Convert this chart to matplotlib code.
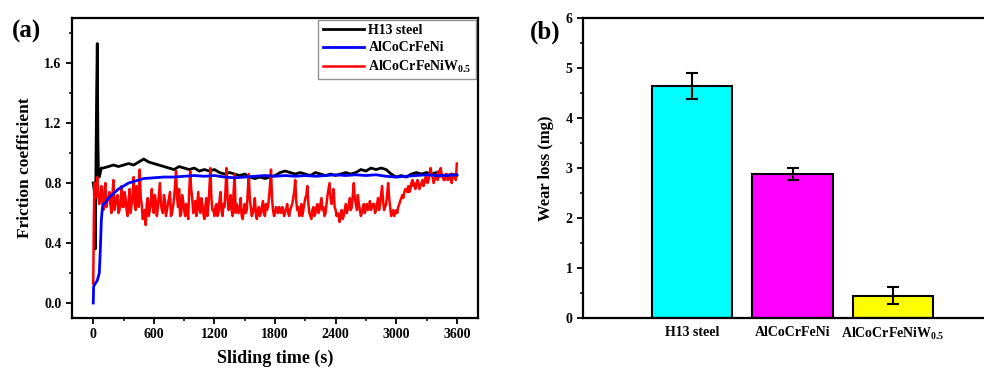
import numpy as np
import matplotlib
matplotlib.use("Agg")
import matplotlib.pyplot as plt
from matplotlib.ticker import MultipleLocator

plt.rcParams['font.family'] = ['Liberation Serif', 'DejaVu Serif']
plt.rcParams['font.weight'] = 'bold'
plt.rcParams['mathtext.fontset'] = 'custom'
plt.rcParams['mathtext.rm'] = 'Liberation Serif:bold'
plt.rcParams['mathtext.it'] = 'Liberation Serif:bold:italic'
plt.rcParams['mathtext.bf'] = 'Liberation Serif:bold'

# ---- (a) friction coefficient vs sliding time ----
h13_time = [0, 10, 20, 28, 34, 40, 46, 52, 60, 80] + list(range(100, 3601, 50))
h13_mu = [0.80, 0.75, 0.36, 1.00, 1.42, 1.73, 1.10, 0.85, 0.84, 0.90,
          0.90, 0.91, 0.92, 0.91, 0.92, 0.93, 0.92, 0.94, 0.96, 0.94,
          0.93, 0.92, 0.91, 0.90, 0.89, 0.91, 0.90, 0.89, 0.90, 0.88,
          0.89, 0.88, 0.89, 0.87, 0.86, 0.87, 0.86, 0.85, 0.86, 0.84,
          0.83, 0.84, 0.83, 0.84, 0.85, 0.87, 0.88, 0.87, 0.86, 0.87,
          0.86, 0.85, 0.87, 0.86, 0.85, 0.86, 0.85, 0.86, 0.87, 0.86,
          0.87, 0.89, 0.88, 0.90, 0.89, 0.90, 0.89, 0.86, 0.84, 0.85,
          0.84, 0.86, 0.87, 0.86, 0.87, 0.86, 0.87, 0.85, 0.84, 0.86,
          0.85]

hea_time = [0, 4, 20, 40, 60, 70, 80, 90, 100, 120, 150, 200, 250, 300, 350,
            400, 450, 500, 600, 700, 800, 900, 1000, 1100, 1200, 1300, 1400,
            1500, 1600, 1700, 1800, 1900, 2000, 2100, 2200, 2300, 2400, 2500,
            2600, 2700, 2800, 2900, 3000, 3100, 3200, 3300, 3400, 3500, 3600]
hea_mu = [0.0, 0.11, 0.13, 0.15, 0.20, 0.35, 0.55, 0.63, 0.66, 0.67, 0.70,
          0.73, 0.76, 0.78, 0.80, 0.81, 0.82, 0.83, 0.835, 0.84, 0.84, 0.845,
          0.85, 0.845, 0.85, 0.84, 0.835, 0.84, 0.845, 0.85, 0.845, 0.85,
          0.845, 0.85, 0.845, 0.85, 0.855, 0.85, 0.855, 0.85, 0.855, 0.845,
          0.84, 0.845, 0.85, 0.855, 0.85, 0.85, 0.855]

# W0.5 alloy: readings every 20 s (even) plus the in-between readings (odd 10 s)
w_time = [0, 6, 12] + list(range(20, 3601, 20))
w_mu = [0.13, 0.55, 0.80,
        0.70, 0.84, 0.66, 0.78, 0.62, 0.80, 0.68, 0.74, 0.60, 0.82,
        0.66, 0.72, 0.62, 0.78, 0.64, 0.70, 0.58, 0.76, 0.66, 0.84,
        0.62, 0.72, 0.89, 0.66, 0.58, 0.52, 0.70, 0.62, 0.76, 0.60,
        0.68, 0.64, 0.80, 0.62, 0.72, 0.58, 0.66, 0.74, 0.60, 0.70,
        0.88, 0.64, 0.58, 0.72, 0.62, 0.66, 0.56, 0.88, 0.70, 0.62,
        0.58, 0.74, 0.60, 0.66, 0.56, 0.70, 0.64, 0.90, 0.62, 0.58,
        0.66, 0.60, 0.74, 0.58, 0.64, 0.90, 0.62, 0.72, 0.58, 0.86,
        0.66, 0.60, 0.70, 0.56, 0.66, 0.62, 0.86, 0.64, 0.60, 0.70,
        0.56, 0.64, 0.60, 0.68, 0.58, 0.62, 0.70, 0.89, 0.62, 0.60,
        0.62, 0.64, 0.60, 0.63, 0.61, 0.66, 0.58, 0.64, 0.70, 0.82,
        0.62, 0.58, 0.66, 0.62, 0.70, 0.78, 0.60, 0.56, 0.64, 0.60,
        0.66, 0.62, 0.70, 0.64, 0.60, 0.72, 0.80, 0.66, 0.76, 0.62,
        0.60, 0.54, 0.62, 0.58, 0.66, 0.62, 0.70, 0.64, 0.80, 0.66,
        0.72, 0.62, 0.60, 0.66, 0.64, 0.62, 0.68, 0.64, 0.66, 0.62,
        0.70, 0.66, 0.78, 0.62, 0.66, 0.80, 0.64, 0.60, 0.58, 0.62,
        0.64, 0.68, 0.72, 0.74, 0.76, 0.78, 0.76, 0.82, 0.80, 0.78,
        0.80, 0.78, 0.82, 0.80, 0.84, 0.82, 0.90, 0.84, 0.82, 0.86,
        0.88, 0.90, 0.84, 0.82, 0.86, 0.84, 0.82, 0.86, 0.84, 0.93]
w_time_mid = list(range(30, 3600, 20))
w_mu_mid = [0.76, 0.72, 0.70, 0.68, 0.74, 0.64, 0.70, 0.66, 0.72, 0.62,
            0.70, 0.60, 0.68, 0.64, 0.74, 0.62, 0.68, 0.60, 0.72, 0.66,
            0.78, 0.64, 0.70, 0.56, 0.62, 0.66, 0.58, 0.68, 0.64, 0.72,
            0.58, 0.72, 0.66, 0.60, 0.68, 0.62, 0.70, 0.58, 0.64, 0.78,
            0.70, 0.76, 0.60, 0.68, 0.58, 0.62, 0.74, 0.76, 0.60, 0.68,
            0.66, 0.62, 0.70, 0.60, 0.64, 0.58, 0.76, 0.70, 0.62, 0.64,
            0.58, 0.68, 0.62, 0.66, 0.76, 0.70, 0.64, 0.62, 0.74, 0.60,
            0.64, 0.62, 0.58, 0.62, 0.60, 0.74, 0.70, 0.58, 0.64, 0.60,
            0.62, 0.58, 0.64, 0.60, 0.66, 0.64, 0.78, 0.70, 0.58, 0.64,
            0.60, 0.62, 0.64, 0.58, 0.62, 0.60, 0.62, 0.66, 0.74, 0.68,
            0.64, 0.60, 0.58, 0.66, 0.72, 0.66, 0.58, 0.62, 0.58, 0.64,
            0.60, 0.66, 0.62, 0.58, 0.66, 0.76, 0.70, 0.68, 0.64, 0.58,
            0.58, 0.60, 0.56, 0.62, 0.60, 0.66, 0.62, 0.72, 0.70, 0.62,
            0.66, 0.58, 0.64, 0.60, 0.66, 0.64, 0.62, 0.66, 0.60, 0.66,
            0.62, 0.72, 0.68, 0.64, 0.72, 0.70, 0.58, 0.62, 0.60, 0.60,
            0.66, 0.70, 0.70, 0.76, 0.74, 0.74, 0.80, 0.78, 0.76, 0.82,
            0.76, 0.80, 0.78, 0.84, 0.80, 0.86, 0.86, 0.80, 0.84, 0.82,
            0.84, 0.86, 0.82, 0.86, 0.82, 0.86, 0.80, 0.84, 0.82]

# ---- (b) wear loss ----
materials = ['H13 steel', 'AlCoCrFeNi', 'AlCoCrFeNiW$_{0.5}$']
wear_loss = [4.65, 2.89, 0.45]
wear_err = [0.26, 0.12, 0.17]
bar_colors = ['#00FFFF', '#FF00FF', '#FFFF00']

# merge the two sets of W0.5 readings in time order
w_all = sorted(zip(w_time + w_time_mid, w_mu + w_mu_mid))
w_t = [p[0] for p in w_all]
w_m = [p[1] for p in w_all]

fig = plt.figure(figsize=(9.84, 3.74), dpi=100)
ax1 = fig.add_axes([0.0732, 0.1497, 0.4126, 0.802])
ax2 = fig.add_axes([0.5925, 0.1497, 0.4136, 0.802])

l1, = ax1.plot(h13_time, h13_mu, color='black', lw=2.0, label='H13 steel')
l3, = ax1.plot(w_t, w_m, color='red', lw=1.8, label='AlCoCrFeNiW$_{0.5}$')
l2, = ax1.plot(hea_time, hea_mu, color='blue', lw=2.0, label='AlCoCrFeNi')

ax1.set_xlim(-210, 3810)
ax1.set_ylim(-0.1, 1.9)
ax1.xaxis.set_major_locator(MultipleLocator(600))
ax1.xaxis.set_minor_locator(MultipleLocator(300))
ax1.yaxis.set_major_locator(MultipleLocator(0.4))
ax1.yaxis.set_minor_locator(MultipleLocator(0.2))
ax1.yaxis.set_major_formatter(plt.FuncFormatter(lambda v, p: f'{v:.1f}'))
ax1.set_xlabel('Sliding time (s)', fontsize=13, fontweight='bold', labelpad=6)
ax1.set_ylabel('Friction coefficient', fontsize=12.5, fontweight='bold', labelpad=8)
leg = ax1.legend(handles=[l1, l2, l3], loc='upper right', fontsize=10,
                 frameon=True, fancybox=False, edgecolor='#777777',
                 borderaxespad=0.15, labelspacing=0.3, handlelength=3.0,
                 handletextpad=0.3, borderpad=0.3)
leg.get_frame().set_linewidth(1.0)

ax2.bar(range(len(materials)), wear_loss, width=0.8, color=bar_colors,
        edgecolor='black', linewidth=1.5, yerr=wear_err,
        error_kw=dict(ecolor='black', elinewidth=1.5, capsize=4, capthick=1.5))
ax2.set_xticks(range(len(materials)))
ax2.set_xticklabels(materials)
ax2.set_xlim(-1.085, 2.965)
ax2.set_ylim(0, 6)
ax2.yaxis.set_major_locator(MultipleLocator(1))
ax2.yaxis.set_minor_locator(MultipleLocator(0.5))
ax2.set_ylabel('Wear loss (mg)', fontsize=12, fontweight='bold', labelpad=8)

for ax in (ax1, ax2):
    for sp in ax.spines.values():
        sp.set_linewidth(1.6)
    ax.tick_params(which='major', direction='out', length=4, width=1.3,
                   labelsize=10)
    ax.tick_params(which='minor', direction='out', length=2.5, width=1.1)
    for lab in ax.get_xticklabels() + ax.get_yticklabels():
        lab.set_fontweight('bold')
ax2.tick_params(axis='x', which='both', length=0, pad=6)

fig.text(0.012, 0.915, '(a)', fontsize=18, fontweight='bold', va='center')
fig.text(0.538, 0.915, '(b)', fontsize=18, fontweight='bold', va='center')

fig.savefig('out.png', dpi=100)
